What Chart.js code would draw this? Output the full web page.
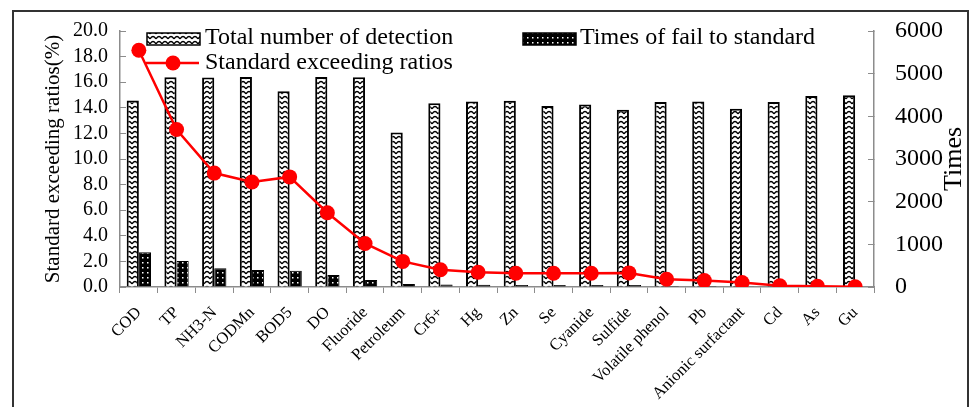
<!DOCTYPE html>
<html>
<head>
<meta charset="utf-8">
<script src="https://cdn.jsdelivr.net/npm/chart.js@4.4.1/dist/chart.umd.min.js"></script>
<style>
    html, body { margin: 0; padding: 0; background: #fff; overflow: hidden; }
    #wrap { position: relative; width: 974px; height: 407px; }
    #frame { position: absolute; left: 12px; top: 10px; width: 957px; height: 500px; border: 2px solid #333; box-sizing: border-box; pointer-events: none; }
    canvas { position: absolute; left: 0; top: 0; }
</style>
</head>
<body>
<div id="wrap">
    <canvas id="chartTimes" width="974" height="407"></canvas>
    <div id="frame"></div>
</div>
<script>

const categories = ['COD', 'TP', 'NH3-N', 'CODMn', 'BOD5', 'DO', 'Fluoride', 'Petroleum', 'Cr6+', 'Hg',
    'Zn', 'Se', 'Cyanide', 'Sulfide', 'Volatile phenol', 'Pb', 'Anionic surfactant', 'Cd', 'As', 'Gu'];

const totalDetection = [4370, 4915, 4910, 4920, 4590, 4920, 4915, 3620, 4305, 4345,
    4365, 4240, 4280, 4155, 4335, 4345, 4175, 4335, 4475, 4495];

const failTimes = [813, 609, 437, 398, 383, 281, 164, 70, 60, 50,
    45, 45, 45, 45, 25, 22, 15, 4, 1, 0];

const exceedRatios = [18.5, 12.3, 8.9, 8.2, 8.6, 5.8, 3.4, 2.0, 1.35, 1.15,
    1.07, 1.07, 1.07, 1.1, 0.6, 0.5, 0.35, 0.1, 0.06, 0.02];

const leftTicks = [0, 2, 4, 6, 8, 10, 12, 14, 16, 18, 20];
const rightTicks = [0, 1000, 2000, 3000, 4000, 5000, 6000];

const serif = '"Liberation Serif", "Times New Roman", serif';
const axisGray = '#8c8c8c';


// Fill patterns
const makePattern = (w, h, paint) => {
    const tile = document.createElement('canvas');
    tile.width = w;
    tile.height = h;
    paint(tile.getContext('2d'));
    return document.createElement('canvas').getContext('2d').createPattern(tile, 'repeat');
}

const wavePattern = makePattern(6, 5, (c) => {
    c.fillStyle = '#fff';
    c.fillRect(0, 0, 6, 5);
    c.strokeStyle = '#000';
    c.lineWidth = 1.4;
    c.beginPath();
    c.moveTo(0, 4);
    c.quadraticCurveTo(3, -1, 6, 4);
    c.stroke();
});

const dotPattern = makePattern(5, 5, (c) => {
    c.fillStyle = '#000';
    c.fillRect(0, 0, 5, 5);
    c.fillStyle = '#fff';
    c.fillRect(2, 2, 1.5, 1.5);
});

// keep the vertical axes from pushing the plot down
const noPad = (scale, width) => {
    scale.width = width;
    scale.paddingTop = 0;
    scale.paddingBottom = 0;
}


// Legend + right title drawn by hand (two-column layout like the original)
const customLegend = {
    id: 'customLegend',
    afterDatasetsDraw(chart) {
        const { ctx } = chart;
        const [line, total, fail] = chart.data.datasets;
        ctx.save();
        ctx.font = '24px ' + serif;
        ctx.textBaseline = 'middle';
        ctx.textAlign = 'left';

        const swatch = (x, y, ds) => {
            ctx.fillStyle = ds.backgroundColor;
            ctx.fillRect(x, y, 53, 12);
            ctx.strokeStyle = '#000';
            ctx.lineWidth = 1.5;
            ctx.strokeRect(x, y, 53, 12);
        }

        swatch(147, 33, total);
        swatch(523, 33, fail);

        ctx.strokeStyle = line.borderColor;
        ctx.lineWidth = line.borderWidth;
        ctx.beginPath();
        ctx.moveTo(146, 63);
        ctx.lineTo(199, 63);
        ctx.stroke();
        ctx.fillStyle = line.backgroundColor;
        ctx.beginPath();
        ctx.arc(173, 63, 7.5, 0, Math.PI * 2);
        ctx.fill();

        ctx.fillStyle = '#000';
        ctx.fillText(total.label, 205, 38);
        ctx.fillText(fail.label, 580, 38);
        ctx.fillText(line.label, 205, 63);

        ctx.font = '26px ' + serif;
        ctx.textAlign = 'center';
        ctx.translate(954, 159);
        ctx.rotate(-Math.PI / 2);
        ctx.fillText('Times', 0, 0);
        ctx.restore();
    }
}


const chartTimes = new Chart(document.getElementById('chartTimes'), {
    type: 'bar',
    data: {
        labels: categories,
        datasets: [
            {
                type: 'line',
                label: 'Standard exceeding ratios',
                data: exceedRatios,
                yAxisID: 'y',
                borderColor: '#ff0000',
                backgroundColor: '#ff0000',
                borderWidth: 2.5,
                pointRadius: 7.5,
                pointBorderWidth: 0,
                tension: 0,
                order: 0
            },
            {
                label: 'Total number of detection',
                data: totalDetection,
                yAxisID: 'y1',
                backgroundColor: wavePattern,
                borderColor: '#000',
                borderWidth: 2,
                barPercentage: 1,
                categoryPercentage: 0.645,
                order: 1
            },
            {
                label: 'Times of fail to standard',
                data: failTimes,
                yAxisID: 'y1',
                backgroundColor: dotPattern,
                borderColor: '#000',
                borderWidth: 1,
                barPercentage: 1,
                categoryPercentage: 0.645,
                order: 1
            }
        ]
    },
    options: {
        responsive: false,
        animation: false,
        layout: {
            padding: { top: 31, left: 0, right: 0, bottom: 0 }
        },
        plugins: {
            legend: { display: false },
            tooltip: { enabled: false }
        },
        scales: {
            x: {
                grid: { offset: true, drawOnChartArea: false, tickLength: 6, color: axisGray },
                border: { color: axisGray, width: 1.5 },
                ticks: {
                    color: '#000',
                    font: { family: serif, size: 16.5 },
                    minRotation: 45,
                    maxRotation: 45,
                    autoSkip: false,
                    padding: 10
                },
                afterFit: (scale) => { scale.height = 120; }
            },
            y: {
                position: 'left',
                min: 0,
                max: 20,
                afterBuildTicks: (scale) => { scale.ticks = leftTicks.map(v => ({ value: v })); },
                grid: { drawOnChartArea: false, tickLength: -6, color: axisGray },
                border: { color: axisGray, width: 1.5 },
                ticks: {
                    color: '#000',
                    autoSkip: false,
                    font: { family: serif, size: 20 },
                    padding: 18,
                    callback: (v) => v.toFixed(1)
                },
                title: {
                    display: true,
                    text: 'Standard exceeding ratios(%)',
                    color: '#000',
                    font: { family: serif, size: 21 },
                    padding: { top: 41, bottom: 0 }
                },
                afterFit: (scale) => noPad(scale, 120)
            },
            y1: {
                position: 'right',
                min: 0,
                max: 6000,
                afterBuildTicks: (scale) => { scale.ticks = rightTicks.map(v => ({ value: v })); },
                grid: { drawOnChartArea: false, tickLength: -6, color: axisGray },
                border: { color: axisGray, width: 1.5 },
                ticks: {
                    color: '#000',
                    autoSkip: false,
                    font: { family: serif, size: 24 },
                    padding: 27,
                    callback: (v) => String(v)
                },
                afterFit: (scale) => noPad(scale, 100)
            }
        }
    },
    plugins: [customLegend]
});

</script>
</body>
</html>
